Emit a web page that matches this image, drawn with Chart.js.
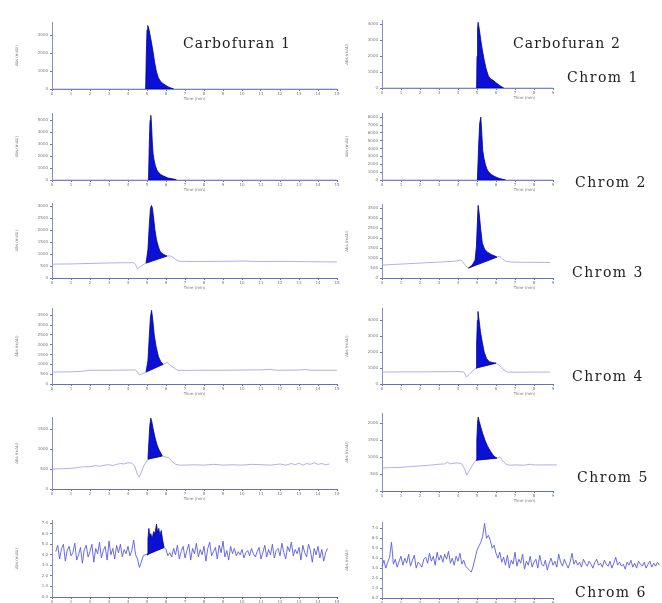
<!DOCTYPE html>
<html>
<head>
<meta charset="utf-8">
<script src="https://cdn.jsdelivr.net/npm/chart.js@4.4.1/dist/chart.umd.min.js"></script>
<style>
  body { margin: 0; background: #fff; width: 662px; height: 603px; position: relative; overflow: hidden; }
  canvas { position: absolute; }
  .lbl { position: absolute; font-family: 'DejaVu Serif', serif; font-size: 14px; color: #222; white-space: nowrap; line-height: 1; }
</style>
</head>
<body>
<script>
// time axes
const leftTimeTicks = [0, 1, 2, 3, 4, 5, 6, 7, 8, 9, 10, 11, 12, 13, 14, 15];
const rightTimeTicks = [0, 1, 2, 3, 4, 5, 6, 7, 8, 9];
const xTitleText = 'Time (min)';
const yTitleText = 'Abs (mAU)';

// Chrom 1
const c1LeftTicks = [0, 1000, 2000, 3000];
const c1LeftTrace = [[0, 0], [15, 0]];
const c1LeftPeak = [[4.93, 0], [4.96, 1800], [5.0, 3300], [5.04, 3550], [5.1, 3350], [5.2, 2800], [5.3, 2200], [5.4, 1500], [5.5, 950], [5.6, 620], [5.7, 450], [5.8, 340], [5.95, 230], [6.1, 130], [6.25, 60], [6.4, 0], [4.93, 0]];
const c1RightTicks = [0, 1000, 2000, 3000, 4000];
const c1RightTrace = [[0, 0], [9, 0]];
const c1RightPeak = [[4.98, 0], [5.0, 2000], [5.03, 3700], [5.06, 4130], [5.12, 3700], [5.2, 3000], [5.28, 2400], [5.38, 1750], [5.48, 1200], [5.6, 750], [5.72, 560], [5.85, 480], [6.0, 330], [6.2, 150], [6.4, 0], [4.98, 0]];

// Chrom 2
const c2LeftTicks = [0, 1000, 2000, 3000, 4000, 5000];
const c2LeftTrace = [[0, 0], [15, 0]];
const c2LeftPeak = [[5.08, 0], [5.12, 3000], [5.16, 5000], [5.2, 5420], [5.24, 4600], [5.28, 3100], [5.32, 2200], [5.37, 1670], [5.44, 1200], [5.52, 830], [5.62, 600], [5.74, 440], [5.87, 330], [6.1, 170], [6.4, 80], [6.55, 0], [5.08, 0]];
const c2RightTicks = [0, 1000, 2000, 3000, 4000, 5000, 6000, 7000, 8000];
const c2RightTrace = [[0, 0], [9, 0]];
const c2RightPeak = [[5.02, 0], [5.08, 4000], [5.14, 7200], [5.2, 8000], [5.24, 6500], [5.3, 3800], [5.37, 2700], [5.45, 1900], [5.52, 1400], [5.6, 1050], [5.75, 700], [5.95, 420], [6.15, 220], [6.35, 80], [6.5, 0], [5.02, 0]];

// Chrom 3
const c3LeftTicks = [0, 500, 1000, 1500, 2000, 2500, 3000];
const c3LeftTrace = [[0, 580], [1, 590], [2, 610], [3, 630], [3.8, 640], [4.3, 640], [4.4, 560], [4.5, 380], [4.6, 450], [4.8, 560], [4.95, 625], [6.05, 920], [6.2, 930], [6.35, 880], [6.5, 780], [6.7, 700], [7.5, 690], [9, 700], [10, 710], [11, 690], [12, 700], [13, 690], [14, 680], [15, 670]];
const c3LeftPeak = [[4.95, 625], [5.05, 1200], [5.12, 2200], [5.18, 2900], [5.23, 3040], [5.28, 2950], [5.35, 2500], [5.42, 2000], [5.5, 1600], [5.6, 1300], [5.7, 1100], [5.85, 1000], [6.05, 920], [4.95, 625]];
const c3RightTicks = [0, 500, 1000, 1500, 2000, 2500, 3000, 3500];
const c3RightTrace = [[0, 650], [1, 700], [2, 750], [3, 800], [3.8, 840], [4.0, 870], [4.15, 900], [4.25, 820], [4.4, 620], [4.55, 500], [6.05, 1050], [6.2, 1100], [6.3, 980], [6.5, 850], [6.8, 800], [7.5, 790], [8.85, 780]];
const c3RightPeak = [[4.55, 500], [4.75, 650], [4.9, 900], [4.97, 1600], [5.02, 2800], [5.06, 3650], [5.12, 3200], [5.2, 2400], [5.28, 1750], [5.4, 1450], [5.55, 1300], [5.75, 1180], [5.95, 1100], [6.05, 1050], [4.55, 500]];

// Chrom 4
const c4LeftTicks = [0, 500, 1000, 1500, 2000, 2500, 3000, 3500];
const c4LeftTrace = [[0, 610], [1, 620], [1.5, 640], [2, 700], [3, 700], [4, 710], [4.4, 720], [4.5, 600], [4.6, 460], [4.75, 520], [4.95, 610], [5.85, 1000], [6.05, 1100], [6.3, 900], [6.6, 700], [7, 690], [8, 700], [9, 700], [10, 710], [11, 720], [11.5, 750], [11.7, 710], [12, 700], [13, 710], [13.4, 740], [13.6, 700], [14, 700], [15, 700]];
const c4LeftPeak = [[4.95, 610], [5.05, 1200], [5.12, 2400], [5.18, 3400], [5.24, 3750], [5.3, 3300], [5.38, 2500], [5.48, 1900], [5.6, 1400], [5.72, 1150], [5.85, 1000], [4.95, 610]];
const c4RightTicks = [0, 1000, 2000, 3000, 4000];
const c4RightTrace = [[0, 750], [1, 760], [2, 760], [3, 770], [4, 780], [4.3, 760], [4.45, 440], [4.6, 600], [4.8, 850], [4.95, 1000], [6.0, 1310], [6.15, 1200], [6.35, 950], [6.6, 750], [7, 740], [8, 750], [8.85, 750]];
const c4RightPeak = [[4.95, 1000], [4.98, 2500], [5.02, 4000], [5.05, 4560], [5.1, 4100], [5.18, 3300], [5.28, 2600], [5.38, 2000], [5.5, 1600], [5.65, 1400], [5.8, 1350], [6.0, 1310], [4.95, 1000]];

// Chrom 5
const c5LeftTicks = [0, 500, 1000, 1500];
const c5LeftTrace = [[0, 500], [0.5, 510], [1, 520], [1.4, 540], [1.6, 560], [2, 560], [2.3, 590], [2.5, 570], [2.8, 600], [3, 610], [3.2, 590], [3.4, 620], [3.6, 640], [3.8, 630], [4.0, 660], [4.2, 650], [4.35, 580], [4.5, 360], [4.6, 300], [4.7, 420], [4.85, 600], [5.05, 750], [5.8, 830], [6.0, 800], [6.15, 790], [6.3, 700], [6.5, 620], [6.7, 600], [7, 600], [7.5, 610], [8, 600], [8.5, 620], [9, 600], [9.5, 610], [10, 600], [10.5, 620], [11, 610], [11.5, 600], [12, 630], [12.3, 600], [12.6, 640], [12.8, 610], [13, 650], [13.2, 600], [13.4, 640], [13.6, 620], [13.8, 660], [14, 620], [14.2, 640], [14.4, 610], [14.6, 630]];
const c5LeftPeak = [[5.05, 750], [5.1, 1200], [5.15, 1600], [5.2, 1780], [5.25, 1700], [5.32, 1520], [5.42, 1300], [5.52, 1120], [5.62, 1000], [5.72, 910], [5.8, 830], [5.05, 750]];
const c5RightTicks = [0, 500, 1000, 1500, 2000];
const c5RightTrace = [[0, 680], [0.5, 690], [1, 700], [1.5, 720], [2, 740], [2.5, 760], [3, 790], [3.3, 800], [3.45, 860], [3.55, 800], [3.8, 820], [4.0, 830], [4.2, 800], [4.35, 650], [4.45, 470], [4.6, 600], [4.8, 800], [4.95, 910], [6.05, 970], [6.2, 1000], [6.35, 900], [6.55, 780], [6.75, 760], [7, 770], [7.5, 760], [7.8, 790], [8, 770], [8.5, 770], [9.2, 770]];
const c5RightPeak = [[4.95, 910], [4.99, 1500], [5.03, 2000], [5.06, 2180], [5.12, 2050], [5.2, 1880], [5.3, 1700], [5.42, 1500], [5.55, 1330], [5.7, 1180], [5.88, 1030], [6.05, 970], [4.95, 910]];

// Chrom 6 (sampled every 0.1 min)
const c6LeftTicks = [0, 1, 2, 3, 4, 5, 6, 7];
const c6LeftStart = 0.2;
const c6LeftNoise = [
  4.3, 4.9, 3.6, 4.6, 5.0, 3.4, 4.4, 4.8, 3.9, 4.2,
  5.1, 3.5, 4.0, 4.7, 3.2, 4.5, 4.9, 3.8, 4.3, 5.0,
  3.3, 4.6, 4.1, 5.2, 3.7, 4.4, 4.8, 3.5, 5.3, 4.0,
  4.6, 3.6, 4.9, 4.2, 5.0, 3.8, 4.5, 4.1, 4.8, 3.9,
  4.4, 5.4, 4.0, 3.6, 2.8, 3.3, 3.9, 4.0,
  null, null, null, null, null, null, null, null, null,
  4.7, 4.5, 3.9, 4.2, 3.8, 4.6, 4.0, 4.9, 3.6, 4.3,
  4.8, 3.7, 4.4, 5.0, 3.5, 4.6, 4.1, 5.1, 3.8, 4.5,
  4.0, 4.8, 3.4, 4.6, 5.2, 3.9, 4.3, 4.7, 3.6, 4.9,
  4.2, 5.3, 3.8, 4.4, 3.5, 4.8, 4.1, 4.6, 3.9, 4.3,
  4.0, 4.5, 3.7, 4.2, 4.4, 3.9, 4.6, 4.1, 3.8, 4.3,
  4.7, 3.6, 4.2, 4.9, 3.8, 4.5, 4.0, 5.0, 3.7, 4.4,
  4.6, 3.9, 5.1, 4.2, 3.6, 4.8, 4.3, 5.2, 3.9, 4.5,
  4.1, 4.7, 3.5, 4.9, 4.2, 3.8, 5.0, 4.4, 3.3, 4.6,
  4.0, 4.8, 3.7, 4.5, 3.4, 4.2, 4.6
];
const c6LeftPeak = [[5.0, 4.0], [5.05, 5.5], [5.1, 6.5], [5.15, 5.7], [5.2, 6.0], [5.27, 5.5], [5.35, 6.2], [5.42, 6.0], [5.5, 6.9], [5.56, 6.1], [5.62, 6.5], [5.68, 5.8], [5.75, 6.3], [5.82, 5.4], [5.9, 4.7], [5.0, 4.0]];
const c6RightTicks = [0, 1, 2, 3, 4, 5, 6, 7];
const c6RightStart = 0;
const c6RightNoise = [
  3.2, 3.8, 3.0, 3.6, 4.1, 5.6, 3.4, 3.9, 3.1, 3.7,
  4.2, 3.3, 4.0, 3.5, 4.4, 3.2, 3.8, 4.3, 3.0, 3.6,
  3.4, 3.1, 3.9, 4.1, 3.5, 4.5, 3.7, 4.2, 3.3, 4.6,
  3.8, 4.3, 3.6, 4.4, 3.9, 4.7, 3.5, 4.0, 3.3, 4.2,
  3.7, 4.5, 3.4, 3.8, 3.2, 3.0, 2.8, 2.6, 3.2, 4.0,
  4.8, 5.2, 5.6, 6.2, 7.5, 6.0, 6.3, 5.8, 5.0, 5.3,
  4.5, 4.0, 4.6, 3.6, 4.1, 3.3, 4.3, 3.0, 3.8, 3.4,
  4.6, 3.2, 3.9, 3.5, 4.4, 2.9, 3.7, 3.3, 4.2, 3.1,
  3.6, 3.9, 3.0, 4.3, 3.4, 3.2, 3.8, 2.8, 3.5, 4.0,
  3.3, 3.7, 3.1, 4.4, 3.6, 3.2, 3.9, 3.4, 3.0, 3.6,
  4.5, 3.4, 3.8, 3.3, 3.6, 3.1, 3.9, 3.5, 3.2, 3.7,
  3.4, 3.0, 3.6, 3.9, 3.3, 3.5, 3.1, 3.8, 3.4, 3.2,
  3.7, 3.0, 3.5, 4.1, 3.3, 3.6, 3.2, 3.4, 2.9, 3.6,
  3.3, 3.8, 3.1, 3.5, 3.0, 3.7, 3.4, 3.2, 3.6, 3.0,
  3.4, 3.7, 3.1, 3.5, 3.2, 3.6, 3.3
];

const labels = [
  { text: 'Carbofuran 1', x: 183, y: 36, sp: 1.1 },
  { text: 'Carbofuran 2', x: 513, y: 36, sp: 1.1 },
  { text: 'Chrom 1', x: 567, y: 70, sp: 1.5 },
  { text: 'Chrom 2', x: 575, y: 175, sp: 1.5 },
  { text: 'Chrom 3', x: 572, y: 265, sp: 1.5 },
  { text: 'Chrom 4', x: 572, y: 369, sp: 1.5 },
  { text: 'Chrom 5', x: 577, y: 470, sp: 1.5 },
  { text: 'Chrom 6', x: 575, y: 585, sp: 1.5 },
];

const pairs = a => a.map(([x, y]) => ({ x, y }));
const sampled = (t0, ys) => ys.map((y, i) => ({ x: Math.round((t0 + i * 0.1) * 100) / 100, y }));

// layout of each panel (chart area top/bottom in page px)
const panels = [
  { col: 0, top: 22, bottom: 89, yMax: 3720, ticks: c1LeftTicks, trace: pairs(c1LeftTrace), peak: pairs(c1LeftPeak) },
  { col: 1, top: 20, bottom: 88, yMax: 4250, ticks: c1RightTicks, trace: pairs(c1RightTrace), peak: pairs(c1RightPeak) },
  { col: 0, top: 113, bottom: 180, yMax: 5580, ticks: c2LeftTicks, trace: pairs(c2LeftTrace), peak: pairs(c2LeftPeak) },
  { col: 1, top: 113, bottom: 180, yMax: 8480, ticks: c2RightTicks, trace: pairs(c2RightTrace), peak: pairs(c2RightPeak) },
  { col: 0, top: 203, bottom: 278, yMax: 3125, ticks: c3LeftTicks, trace: pairs(c3LeftTrace), peak: pairs(c3LeftPeak) },
  { col: 1, top: 204, bottom: 278, yMax: 3700, ticks: c3RightTicks, trace: pairs(c3RightTrace), peak: pairs(c3RightPeak) },
  { col: 0, top: 308, bottom: 384, yMax: 3850, ticks: c4LeftTicks, trace: pairs(c4LeftTrace), peak: pairs(c4LeftPeak) },
  { col: 1, top: 308, bottom: 384, yMax: 4750, ticks: c4RightTicks, trace: pairs(c4RightTrace), peak: pairs(c4RightPeak) },
  { col: 0, top: 417, bottom: 489, yMax: 1800, ticks: c5LeftTicks, trace: pairs(c5LeftTrace), peak: pairs(c5LeftPeak) },
  { col: 1, top: 413, bottom: 491, yMax: 2290, ticks: c5RightTicks, trace: pairs(c5RightTrace), peak: pairs(c5RightPeak) },
  { col: 0, top: 520, bottom: 597, yMax: 7.26, ticks: c6LeftTicks, digits: 1, noisy: true, trace: sampled(c6LeftStart, c6LeftNoise), peak: pairs(c6LeftPeak) },
  { col: 1, top: 522, bottom: 598, yMax: 7.6, ticks: c6RightTicks, digits: 1, noisy: true, trace: sampled(c6RightStart, c6RightNoise) },
];

const axisColor = '#6470c0';
const tickFont = { size: 4, family: 'DejaVu Sans' };

// x axis title sits at the middle of the nominal 15 min run
const xTitle = {
  id: 'xTitle',
  afterDraw(chart) {
    const ctx = chart.ctx;
    ctx.save();
    ctx.font = '4px DejaVu Sans';
    ctx.fillStyle = '#777';
    ctx.textAlign = 'center';
    ctx.textBaseline = 'middle';
    ctx.fillText(xTitleText, chart.scales.x.getPixelForValue(7.5), chart.chartArea.bottom + 10);
    ctx.restore();
  }
};

panels.forEach(p => {
  const left = p.col ? 345 : 15;
  const width = p.col ? 317 : 330;
  const xTicks = p.col ? rightTimeTicks : leftTimeTicks;
  const xMax = xTicks[xTicks.length - 1];
  const cv = document.createElement('canvas');
  cv.width = width;
  cv.height = p.bottom - p.top + 20;
  cv.style.left = left + 'px';
  cv.style.top = (p.top - 4) + 'px';
  document.body.appendChild(cv);

  const datasets = [];
  if (p.peak) {
    datasets.push({
      data: p.peak, showLine: true, pointRadius: 0, borderWidth: 0.8,
      borderColor: '#00009a', backgroundColor: '#0a10d4', fill: 'shape', tension: 0
    });
  }
  datasets.push({
    data: p.trace, showLine: true, pointRadius: 0, spanGaps: true, clip: false,
    borderWidth: p.noisy ? 0.9 : 0.8, borderColor: p.noisy ? '#5a5ae2' : '#9a9af2', fill: false
  });

  new Chart(cv, {
    type: 'scatter',
    data: { datasets },
    options: {
      responsive: false,
      animation: false,
      devicePixelRatio: 1,
      layout: { padding: { top: 4, right: p.col ? 109 : 8, left: 0, bottom: 0 } },
      plugins: { legend: { display: false }, tooltip: { enabled: false } },
      scales: {
        x: {
          type: 'linear',
          bounds: 'data',
          // range set here (not as min/max) so the trace may run past the axis end
          afterDataLimits(s) { s.min = 0; s.max = xMax; },
          afterBuildTicks(s) { s.ticks = xTicks.map(value => ({ value })); s.min = 0; s.max = xMax; },
          afterFit(s) { s.height = 16; },
          ticks: { font: tickFont, color: '#777', padding: 1, maxRotation: 0, autoSkip: false },
          grid: { drawOnChartArea: false, tickLength: 2, color: axisColor },
          border: { color: axisColor, width: 1 }
        },
        y: {
          min: 0,
          max: p.yMax,
          afterBuildTicks(s) { s.ticks = p.ticks.map(value => ({ value })); },
          afterFit(s) { s.width = 37; },
          ticks: {
            font: tickFont, color: '#777', padding: 2, autoSkip: false,
            callback: v => p.digits ? v.toFixed(1) : String(v)
          },
          grid: { drawOnChartArea: false, tickLength: 2, color: axisColor },
          border: { color: '#8890b8', width: 1 },
          title: { display: true, text: yTitleText, font: tickFont, color: '#777', padding: 0 }
        }
      }
    },
    plugins: [xTitle]
  });
});

labels.forEach(l => {
  const d = document.createElement('div');
  d.className = 'lbl';
  d.textContent = l.text;
  d.style.left = l.x + 'px';
  d.style.top = l.y + 'px';
  d.style.letterSpacing = l.sp + 'px';
  document.body.appendChild(d);
});
</script>
</body>
</html>
